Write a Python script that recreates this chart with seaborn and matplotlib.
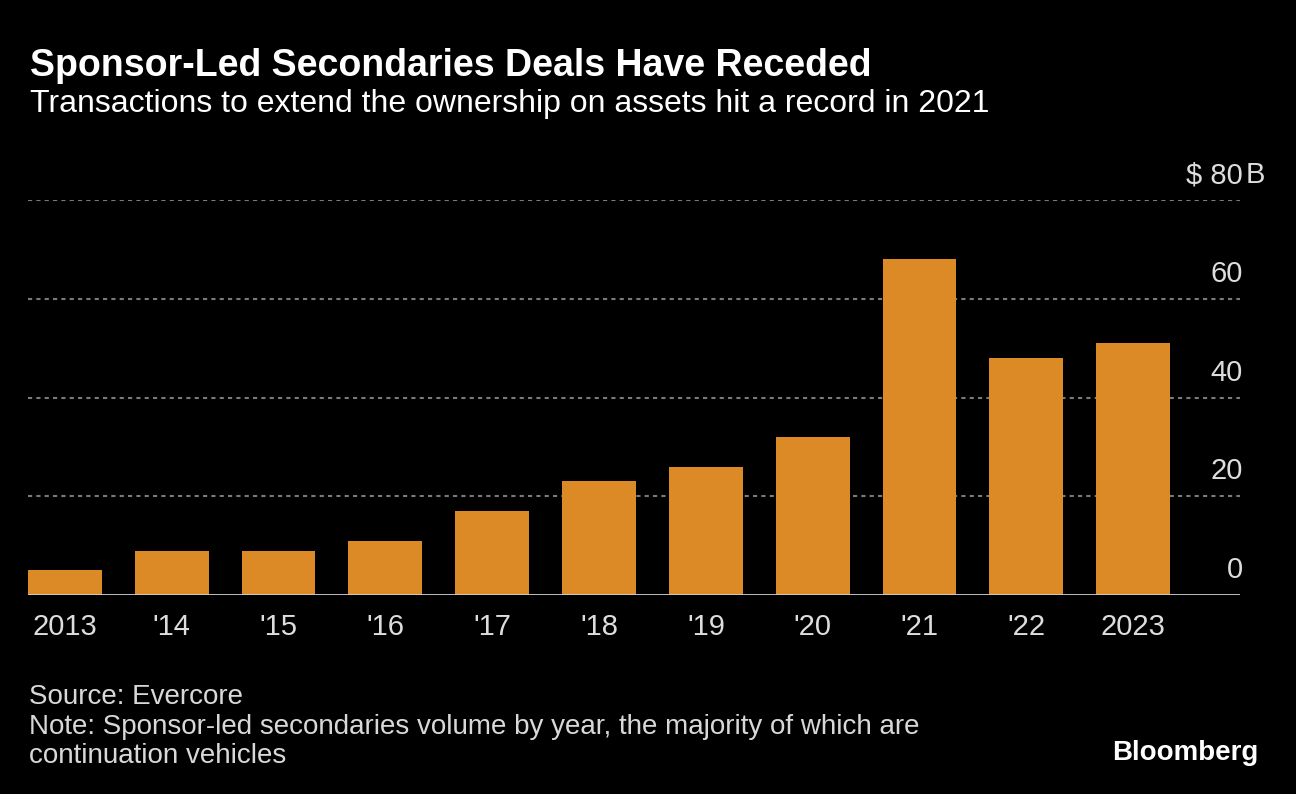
import matplotlib
matplotlib.use("Agg")
import matplotlib.pyplot as plt
import seaborn as sns
import pandas as pd

years = ["2013", "'14", "'15", "'16", "'17", "'18", "'19", "'20", "'21", "'22", "2023"]
volume = [5, 9, 9, 11, 17, 23, 26, 32, 68, 48, 51]
y_ticks = [0, 20, 40, 60, 80]

W, H = 1296, 794
BG = "#000000"
ORANGE = "#DC8A26"
FAMILY = ["Liberation Sans", "DejaVu Sans"]

sns.set_theme(style="dark")
plt.rcParams["font.family"] = FAMILY

df = pd.DataFrame({"year": years, "volume": volume})

fig = plt.figure(figsize=(W / 100, H / 100), dpi=100, facecolor=BG)
ax = fig.add_axes([28 / W, 1 - 595 / H, 1212 / W, 395 / H])
ax.set_facecolor(BG)

sns.barplot(data=df, x="year", y="volume", color=ORANGE, width=0.69,
            saturation=1, linewidth=0, ax=ax, zorder=3)

ax.set_xlim(-0.345, 11.0)
ax.set_ylim(0, 80)
for s in ax.spines.values():
    s.set_visible(False)
ax.set_xlabel("")
ax.set_ylabel("")
ax.set_yticks([])
ax.tick_params(axis="x", length=0, pad=13, labelsize=21, labelcolor="#dddddd")

# grid and baseline
for t in y_ticks[1:]:
    ax.axhline(t, color="#7a7a7a", lw=1.5, ls=(0, (2, 2)), zorder=1)
ax.axhline(0, color="#d0d0d0", lw=2, zorder=4)

# right-hand y labels, above the lines
for t in y_ticks:
    ax.annotate(str(t) if t != 80 else "$ 80", xy=(1.0, t), xycoords=("axes fraction", "data"),
                xytext=(3, 17), textcoords="offset pixels", ha="right", va="baseline",
                fontsize=21, color="#dddddd", annotation_clip=False)
ax.annotate("B", xy=(1.0, 80), xycoords=("axes fraction", "data"),
            xytext=(6, 17), textcoords="offset pixels", ha="left", va="baseline",
            fontsize=21, color="#dddddd", annotation_clip=False)


def ftext(x, y, s, **kw):
    fig.text(x / W, 1 - y / H, s, va="baseline", **kw)


ftext(30, 76, "Sponsor-Led Secondaries Deals Have Receded", fontsize=27,
      fontweight="bold", color="white")
ftext(30, 112, "Transactions to extend the ownership on assets hit a record in 2021",
      fontsize=23, color="white")
ftext(29, 704, "Source: Evercore", fontsize=20, color="#d8d8d8")
ftext(29, 734, "Note: Sponsor-led secondaries volume by year, the majority of which are",
      fontsize=20, color="#d8d8d8")
ftext(29, 763, "continuation vehicles", fontsize=20, color="#d8d8d8")
ftext(1258, 760, "Bloomberg", fontsize=20, fontweight="bold", color="white", ha="right")

fig.savefig("out.png", dpi=100, facecolor=BG)
